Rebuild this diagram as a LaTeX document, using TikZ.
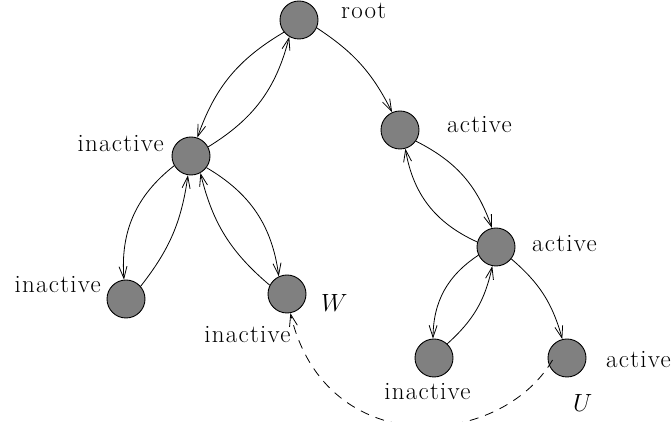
\documentclass[tikz,border=0pt]{standalone}
\usepackage{fontspec}
\setmainfont{Latin Modern Roman}
\newfontfamily\lblfont{Latin Modern Roman}[LetterSpace=5]
\usetikzlibrary{arrows.meta,calc}
\begin{document}
\begin{tikzpicture}[x=1pt,y=1pt,
  vtx/.style={circle,draw=black,fill=gray,line width=0.9pt,minimum size=38pt,inner sep=0pt},
  lbl/.style={font=\lblfont\fontsize{25}{30}\selectfont,inner sep=0pt},
  arr/.style={-{Straight Barb[length=12pt,width=8pt]},line width=0.8pt},
  dasharr/.style={arr,dash pattern=on 9pt off 7pt}]
\useasboundingbox (0,0) rectangle (672,422);
% vertices
\node[vtx] (root) at (299,402) {};
\node[vtx] (A) at (191,266) {};
\node[vtx] (B) at (400,292) {};
\node[vtx] (C) at (126,123) {};
\node[vtx] (W) at (287,128) {};
\node[vtx] (D) at (496,175) {};
\node[vtx] (E) at (434,64) {};
\node[vtx] (U) at (567,64) {};
% labels
\node[lbl,anchor=base west] (lroot) at (341,403) {root};
\node[lbl,anchor=base east] (lA) at (164,270) {inactive};
\node[lbl,anchor=base west] (lB) at (447,289) {active};
\node[lbl,anchor=base east] (lC) at (101,129) {inactive};
\node[lbl,anchor=base] (lW) at (247.5,79) {inactive};
\node[lbl,anchor=base west] (nW) at (321,110) {$W$};
\node[lbl,anchor=base west] (lD) at (532,170) {active};
\node[lbl,anchor=base] (lE) at (427.5,22) {inactive};
\node[lbl,anchor=base west] (lU) at (606,54) {active};
\node[lbl,anchor=base west] (nU) at (573,10) {$U$};
% edges
\draw[arr] (root.219) to[bend right=20] (A.71);
\draw[arr] (A.28) to[bend right=22] (root.240);
\draw[arr] (root.336) to[bend left=15] (B.114);
\draw[arr] (A.210) to[bend right=28] (C.96);
\draw[arr] (C.41) to[bend right=15] (A.261);
\draw[arr] (A.323) to[bend left=26] (W.115);
\draw[arr] (W.153) to[bend left=18] (A.299);
\draw[arr] (B.325) to[bend left=22] (D.102);
\draw[arr] (D.165) to[bend left=28] (B.286);
\draw[arr] (D.205) to[bend right=28] (E.93);
\draw[arr] (E.47) to[bend right=18] (D.259);
\draw[arr] (D.322) to[bend left=17] (U.104);
\draw[dasharr] ([xshift=5pt,yshift=-2pt]U.west) .. controls +(-53,-90) and +(35,-148) .. (W.280);
\end{tikzpicture}
\end{document}
